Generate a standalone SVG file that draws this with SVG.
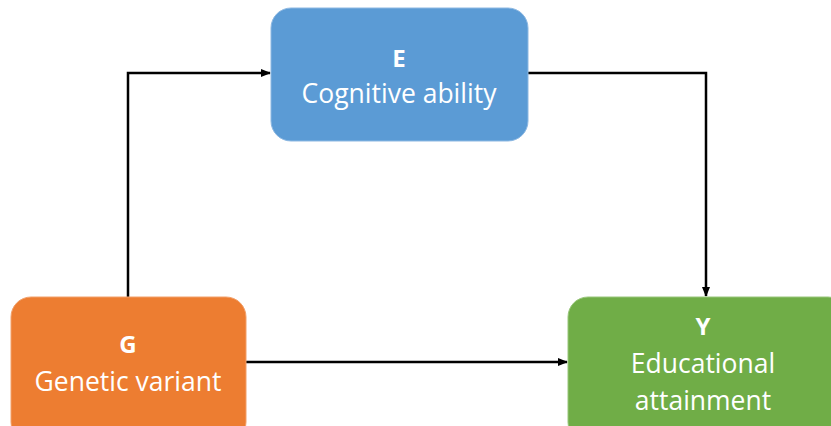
<svg xmlns="http://www.w3.org/2000/svg" width="831" height="426" viewBox="0 0 831 426">
<defs>
<marker id="arr" markerWidth="10" markerHeight="8" refX="9" refY="4" orient="auto" markerUnits="userSpaceOnUse">
<path d="M0,0 L10,4 L0,8 Z" fill="#000"/>
</marker>
<style>
.box{stroke-width:1}
.t{font-family:"Open Sans","Liberation Sans",sans-serif;fill:#fff;text-anchor:middle;font-size:26.5px}
.b{font-weight:bold;font-size:24px}
.c{fill:none;stroke:#000;stroke-width:2.5}
</style>
</defs>
<rect width="831" height="426" fill="#fff"/>
<g id="connectors">
<path class="c" d="M128,297 V73 H270" marker-end="url(#arr)"/>
<path class="c" d="M528,73 H706 V296" marker-end="url(#arr)"/>
<path class="c" d="M246,362 H567" marker-end="url(#arr)"/>
</g>
<g id="E">
<rect class="box" x="271" y="8" width="257" height="133" rx="20" fill="#5B9BD5" stroke="#8DB8E2"/>
<text class="t b" x="399" y="67">E</text>
<text class="t" x="399" y="103">Cognitive ability</text>
</g>
<g id="G">
<rect class="box" x="11" y="297" width="235" height="145" rx="20" fill="#ED7D31" stroke="#F2A06A"/>
<text class="t b" x="128" y="353">G</text>
<text class="t" x="128" y="391">Genetic variant</text>
</g>
<g id="Y">
<rect class="box" x="568" y="297" width="280" height="145" rx="20" fill="#70AD47" stroke="#98C67A"/>
<text class="t b" x="703" y="335">Y</text>
<text class="t" x="703" y="373">Educational</text>
<text class="t" x="703" y="410">attainment</text>
</g>
</svg>
